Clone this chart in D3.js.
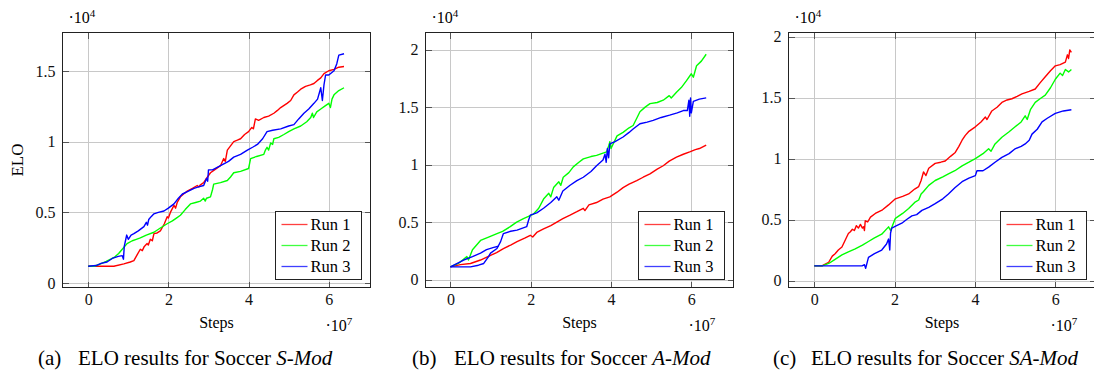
<!DOCTYPE html>
<html>
<head>
<meta charset="utf-8">
<script src="https://cdn.jsdelivr.net/npm/d3@7"></script>
<style>
  html, body { margin: 0; padding: 0; background: #fff; }
  svg { display: block; }
</style>
</head>
<body>
<div id="chart"></div>
<script>
// steps in units of 1e7, ELO in units of 1e4 (as in the axis multipliers)
const xTicks = [0, 2, 4, 6];
const yTicksA = [0, 0.5, 1, 1.5];
const yTicksBC = [0, 0.5, 1, 1.5, 2];
const runNames = ['Run 1', 'Run 2', 'Run 3'];
const runColors = ['#ff0000', '#00ff00', '#0000ff'];
const captions = [
  ['(a)', 'ELO results for Soccer ', 'S-Mod'],
  ['(b)', 'ELO results for Soccer ', 'A-Mod'],
  ['(c)', 'ELO results for Soccer ', 'SA-Mod']
];

// (a) S-Mod
const aRun1 = [[0,0.12],[0.3,0.12],[0.64,0.12],[0.89,0.137],[1.05,0.15],[1.14,0.16],[1.22,0.2],[1.3,0.24],[1.35,0.23],[1.4,0.26],[1.47,0.28],[1.5,0.27],[1.55,0.31],[1.6,0.3],[1.64,0.35],[1.72,0.355],[1.8,0.37],[1.9,0.42],[1.97,0.47],[2.0,0.46],[2.05,0.5],[2.14,0.55],[2.18,0.53],[2.22,0.57],[2.3,0.61],[2.38,0.63],[2.47,0.65],[2.6,0.67],[2.72,0.69],[2.76,0.68],[2.8,0.695],[2.88,0.71],[2.95,0.74],[3.05,0.78],[3.15,0.8],[3.3,0.83],[3.38,0.88],[3.42,0.86],[3.47,0.94],[3.55,0.97],[3.63,1.0],[3.72,1.01],[3.8,1.02],[3.9,1.05],[4.0,1.07],[4.08,1.1],[4.12,1.09],[4.17,1.16],[4.25,1.15],[4.38,1.17],[4.5,1.18],[4.63,1.2],[4.72,1.22],[4.8,1.24],[4.96,1.27],[5.05,1.29],[5.13,1.33],[5.22,1.35],[5.3,1.37],[5.42,1.39],[5.54,1.4],[5.63,1.41],[5.71,1.43],[5.8,1.45],[5.88,1.48],[6.0,1.5],[6.13,1.51],[6.25,1.525],[6.38,1.53]];
const aRun2 = [[0,0.12],[0.15,0.12],[0.31,0.137],[0.45,0.155],[0.56,0.17],[0.66,0.185],[0.76,0.21],[0.85,0.24],[0.97,0.28],[1.1,0.3],[1.2,0.31],[1.3,0.32],[1.45,0.34],[1.64,0.36],[1.8,0.39],[1.97,0.42],[2.1,0.44],[2.2,0.46],[2.3,0.48],[2.42,0.52],[2.55,0.56],[2.68,0.57],[2.8,0.58],[2.88,0.6],[2.92,0.58],[2.95,0.6],[3.05,0.61],[3.1,0.66],[3.13,0.7],[3.3,0.71],[3.47,0.725],[3.55,0.75],[3.63,0.78],[3.8,0.79],[4.0,0.81],[4.05,0.88],[4.2,0.895],[4.38,0.91],[4.42,0.94],[4.46,0.96],[4.5,0.94],[4.55,0.99],[4.6,0.98],[4.63,1.02],[4.75,1.03],[4.88,1.05],[5.0,1.07],[5.13,1.09],[5.3,1.11],[5.45,1.14],[5.55,1.17],[5.59,1.2],[5.62,1.17],[5.7,1.21],[5.8,1.23],[5.9,1.25],[6.0,1.27],[6.04,1.24],[6.08,1.3],[6.13,1.33],[6.25,1.36],[6.38,1.38]];
const aRun3 = [[0,0.12],[0.2,0.125],[0.32,0.14],[0.47,0.15],[0.6,0.175],[0.75,0.19],[0.85,0.195],[0.88,0.17],[0.9,0.26],[0.93,0.3],[0.96,0.34],[1.0,0.31],[1.07,0.34],[1.14,0.35],[1.25,0.37],[1.39,0.4],[1.45,0.43],[1.48,0.41],[1.51,0.45],[1.57,0.47],[1.64,0.49],[1.75,0.5],[1.89,0.51],[2.0,0.53],[2.14,0.56],[2.25,0.6],[2.35,0.63],[2.5,0.65],[2.64,0.67],[2.75,0.68],[2.88,0.69],[2.95,0.74],[2.98,0.72],[3.0,0.8],[3.1,0.8],[3.3,0.83],[3.5,0.86],[3.63,0.89],[3.8,0.91],[3.97,0.94],[4.1,0.96],[4.22,0.98],[4.35,1.02],[4.46,1.07],[4.6,1.08],[4.8,1.09],[5.0,1.11],[5.13,1.12],[5.25,1.16],[5.38,1.2],[5.5,1.23],[5.63,1.27],[5.72,1.3],[5.8,1.38],[5.84,1.29],[5.88,1.4],[5.92,1.47],[6.0,1.47],[6.13,1.5],[6.2,1.55],[6.25,1.61],[6.38,1.62]];

// (b) A-Mod
const bRun1 = [[0,0.11],[0.25,0.13],[0.5,0.14],[0.75,0.17],[1.0,0.21],[1.15,0.235],[1.32,0.27],[1.5,0.3],[1.66,0.33],[1.85,0.36],[1.99,0.385],[2.05,0.37],[2.15,0.41],[2.32,0.44],[2.5,0.47],[2.65,0.5],[2.8,0.53],[2.98,0.56],[3.15,0.59],[3.31,0.62],[3.35,0.6],[3.45,0.65],[3.64,0.67],[3.8,0.7],[3.97,0.72],[4.15,0.76],[4.3,0.8],[4.45,0.83],[4.64,0.86],[4.8,0.89],[4.97,0.92],[5.15,0.96],[5.3,0.99],[5.45,1.03],[5.63,1.065],[5.8,1.09],[5.96,1.11],[6.1,1.13],[6.2,1.14],[6.37,1.17]];
const bRun2 = [[0,0.11],[0.2,0.14],[0.41,0.2],[0.45,0.17],[0.55,0.26],[0.75,0.34],[0.95,0.37],[1.16,0.4],[1.3,0.42],[1.49,0.46],[1.65,0.5],[1.82,0.53],[2.07,0.57],[2.2,0.62],[2.32,0.7],[2.45,0.75],[2.5,0.72],[2.57,0.8],[2.7,0.85],[2.75,0.82],[2.81,0.89],[2.95,0.93],[3.06,0.98],[3.2,1.02],[3.31,1.05],[3.5,1.07],[3.64,1.08],[3.89,1.11],[3.95,1.17],[3.97,1.2],[4.0,1.14],[4.15,1.25],[4.3,1.28],[4.45,1.32],[4.55,1.34],[4.65,1.41],[4.72,1.46],[4.85,1.5],[4.97,1.53],[5.15,1.54],[5.3,1.56],[5.45,1.6],[5.5,1.58],[5.63,1.63],[5.75,1.67],[5.88,1.73],[6.0,1.79],[6.05,1.76],[6.13,1.86],[6.25,1.9],[6.37,1.96]];
const bRun3Early = [[0,0.11],[0.33,0.17],[0.55,0.2],[0.75,0.23],[0.9,0.26],[1.08,0.28],[1.2,0.29]];
const bRun3 = [[0,0.11],[0.3,0.11],[0.5,0.11],[0.7,0.125],[0.83,0.14],[0.95,0.2],[1.0,0.23],[1.16,0.27],[1.25,0.33],[1.32,0.4],[1.5,0.42],[1.66,0.43],[1.9,0.46],[1.95,0.52],[1.99,0.56],[2.15,0.58],[2.32,0.62],[2.5,0.67],[2.65,0.72],[2.7,0.69],[2.8,0.77],[2.98,0.82],[3.15,0.86],[3.31,0.89],[3.5,0.94],[3.64,0.99],[3.8,1.04],[3.85,1.09],[3.88,1.02],[3.91,1.14],[3.94,1.06],[3.97,1.18],[4.1,1.2],[4.3,1.24],[4.45,1.28],[4.55,1.31],[4.72,1.355],[4.9,1.37],[5.05,1.385],[5.25,1.41],[5.46,1.43],[5.65,1.45],[5.8,1.47],[5.9,1.47],[5.94,1.56],[5.96,1.42],[5.98,1.58],[6.0,1.45],[6.05,1.55],[6.2,1.57],[6.37,1.58]];

// (c) SA-Mod
const cRun1 = [[0,0.12],[0.19,0.12],[0.36,0.15],[0.45,0.2],[0.52,0.22],[0.6,0.25],[0.69,0.275],[0.77,0.33],[0.85,0.385],[0.9,0.4],[0.95,0.42],[1.0,0.41],[1.05,0.45],[1.1,0.43],[1.15,0.46],[1.2,0.43],[1.23,0.44],[1.25,0.41],[1.27,0.49],[1.33,0.48],[1.4,0.52],[1.52,0.55],[1.7,0.58],[1.85,0.62],[2.02,0.67],[2.2,0.69],[2.35,0.71],[2.5,0.75],[2.6,0.77],[2.66,0.82],[2.72,0.89],[2.78,0.86],[2.85,0.92],[3.01,0.96],[3.15,0.97],[3.26,0.98],[3.4,1.02],[3.51,1.05],[3.6,1.1],[3.68,1.15],[3.76,1.19],[3.84,1.22],[4.01,1.26],[4.15,1.3],[4.26,1.34],[4.3,1.32],[4.42,1.39],[4.55,1.42],[4.67,1.46],[4.8,1.48],[4.92,1.49],[5.05,1.51],[5.17,1.53],[5.35,1.55],[5.5,1.57],[5.62,1.62],[5.75,1.67],[5.88,1.72],[6.0,1.76],[6.12,1.77],[6.25,1.79],[6.3,1.85],[6.33,1.82],[6.36,1.89],[6.4,1.87]];
const cRun2 = [[0,0.12],[0.2,0.12],[0.36,0.14],[0.5,0.17],[0.69,0.21],[0.85,0.235],[1.02,0.26],[1.2,0.29],[1.35,0.32],[1.5,0.35],[1.68,0.38],[1.85,0.44],[1.9,0.41],[2.02,0.51],[2.2,0.55],[2.35,0.59],[2.5,0.64],[2.6,0.66],[2.66,0.71],[2.72,0.73],[2.85,0.78],[3.01,0.82],[3.2,0.85],[3.34,0.875],[3.5,0.9],[3.68,0.94],[3.85,0.97],[4.01,1.0],[4.2,1.04],[4.34,1.08],[4.4,1.06],[4.5,1.12],[4.67,1.175],[4.85,1.22],[5.0,1.26],[5.15,1.3],[5.25,1.35],[5.3,1.32],[5.38,1.4],[5.5,1.46],[5.62,1.49],[5.75,1.52],[5.88,1.58],[6.0,1.65],[6.12,1.7],[6.18,1.68],[6.25,1.73],[6.33,1.71],[6.4,1.73]];
const cRun3 = [[0,0.12],[0.6,0.12],[1.0,0.12],[1.19,0.12],[1.25,0.13],[1.28,0.1],[1.35,0.19],[1.5,0.22],[1.68,0.25],[1.8,0.3],[1.85,0.34],[1.88,0.25],[1.9,0.39],[1.93,0.43],[2.05,0.45],[2.18,0.47],[2.3,0.5],[2.43,0.53],[2.55,0.54],[2.68,0.575],[2.85,0.6],[3.01,0.63],[3.2,0.67],[3.34,0.71],[3.5,0.76],[3.68,0.81],[3.85,0.84],[4.01,0.86],[4.05,0.9],[4.2,0.9],[4.34,0.93],[4.5,0.97],[4.67,1.01],[4.85,1.04],[5.0,1.08],[5.15,1.1],[5.25,1.12],[5.35,1.15],[5.42,1.2],[5.55,1.24],[5.67,1.3],[5.8,1.33],[6.0,1.37],[6.2,1.39],[6.4,1.4]];

const W = 1094, H = 378;
const SERIF = 'Liberation Serif';

// panel boxes (pixels) and axis ranges
const panels = [
  { left: 62, right: 370, top: 32, bottom: 287, xDom: [-0.64, 7.04], yDom: [-0.03, 1.77], yTicks: yTicksA,
    series: [[aRun1], [aRun2], [aRun3]], ylabel: 'ELO', caption: captions[0], capX: [38, 78] },
  { left: 425, right: 733, top: 32, bottom: 287, xDom: [-0.62, 7.05], yDom: [-0.069, 2.149], yTicks: yTicksBC,
    series: [[bRun1], [bRun2], [bRun3Early, bRun3]], ylabel: null, caption: captions[1], capX: [412, 454] },
  { left: 788, right: 1095, top: 32, bottom: 287, xDom: [-0.64, 7.0], yDom: [-0.057, 2.033], yTicks: yTicksBC,
    series: [[cRun1], [cRun2], [cRun3]], ylabel: null, caption: captions[2], capX: [773, 811] }
];

const svg = d3.select('#chart').append('svg')
  .attr('width', W)
  .attr('height', H)
  .attr('font-family', SERIF);

panels.forEach((p, pi) => {
  const w = p.right - p.left;
  const h = p.bottom - p.top;
  const x = d3.scaleLinear().domain(p.xDom).range([0, w]);
  const y = d3.scaleLinear().domain(p.yDom).range([h, 0]);

  const g = svg.append('g').attr('transform', `translate(${p.left + 0.5},${p.top + 0.5})`);

  g.append('clipPath').attr('id', 'clip' + pi)
    .append('rect').attr('width', w).attr('height', h);

  // grid
  const gx = g.append('g').attr('transform', `translate(0,${h})`)
    .call(d3.axisBottom(x).tickValues(xTicks).tickSize(-h).tickFormat(''));
  const gy = g.append('g')
    .call(d3.axisLeft(y).tickValues(p.yTicks).tickSize(-w).tickFormat(''));
  [gx, gy].forEach(a => {
    a.select('.domain').remove();
    a.selectAll('line').attr('stroke', '#c8c8c8').attr('shape-rendering', 'crispEdges');
  });

  // lines
  const line = d3.line().x(d => x(d[0])).y(d => y(d[1]));
  const plot = g.append('g').attr('clip-path', `url(#clip${pi})`);
  p.series.forEach((segs, si) => {
    segs.forEach(seg => {
      plot.append('path')
        .datum(seg)
        .attr('d', line)
        .attr('fill', 'none')
        .attr('stroke', runColors[si])
        .attr('stroke-width', 1.4)
        .attr('stroke-linejoin', 'round');
    });
  });

  // axes with inward ticks
  const xb = g.append('g').attr('transform', `translate(0,${h})`)
    .call(d3.axisBottom(x).tickValues(xTicks).tickSizeInner(-6).tickSizeOuter(0).tickFormat(d3.format('d')));
  const xt = g.append('g')
    .call(d3.axisTop(x).tickValues(xTicks).tickSizeInner(-6).tickSizeOuter(0).tickFormat(''));
  const yl = g.append('g')
    .call(d3.axisLeft(y).tickValues(p.yTicks).tickSizeInner(-6).tickSizeOuter(0).tickPadding(7).tickFormat(d => String(d)));
  const yr = g.append('g').attr('transform', `translate(${w},0)`)
    .call(d3.axisRight(y).tickValues(p.yTicks).tickSizeInner(-6).tickSizeOuter(0).tickFormat(''));
  [xb, xt, yl, yr].forEach(a => {
    a.select('.domain').remove();
    a.selectAll('line').attr('stroke', '#555').attr('shape-rendering', 'crispEdges');
    a.attr('font-family', SERIF).attr('font-size', 16);
    a.selectAll('text').attr('fill', '#111');
  });
  xb.selectAll('text').attr('y', 17).attr('dy', 0);
  yl.selectAll('text').attr('dy', '0.33em');

  // frame
  g.append('rect')
    .attr('width', w).attr('height', h)
    .attr('fill', 'none').attr('stroke', '#222').attr('stroke-width', 1)
    .attr('shape-rendering', 'crispEdges');

  // multipliers
  const m4 = g.append('text').attr('x', 6).attr('y', 23 - p.top - 0.5).attr('font-size', 16);
  m4.append('tspan').text('\u00b710');
  m4.append('tspan').attr('dy', -6).attr('font-size', 11).text('4');
  const m7 = g.append('text').attr('x', w - 45).attr('y', 331 - p.top - 0.5).attr('font-size', 16);
  m7.append('tspan').text('\u00b710');
  m7.append('tspan').attr('dy', -6).attr('font-size', 11).text('7');

  // axis titles
  g.append('text')
    .attr('x', w / 2).attr('y', 327 - p.top)
    .attr('text-anchor', 'middle')
    .attr('font-size', 16)
    .text('Steps');
  if (p.ylabel) {
    g.append('text')
      .attr('transform', `translate(${17 - p.left + 5},${h / 2}) rotate(-90)`)
      .attr('text-anchor', 'middle')
      .attr('font-size', 17)
      .text(p.ylabel);
  }

  // legend
  const lg = g.append('g').attr('transform', `translate(${w - 95},${h - 76})`);
  lg.append('rect')
    .attr('width', 86).attr('height', 68)
    .attr('fill', '#fff').attr('stroke', '#222').attr('shape-rendering', 'crispEdges');
  runNames.forEach((name, i) => {
    const ly = 13 + i * 21;
    lg.append('line')
      .attr('x1', 6).attr('x2', 32).attr('y1', ly).attr('y2', ly)
      .attr('stroke', runColors[i]).attr('stroke-width', 1.3).attr('opacity', 0.75);
    lg.append('text')
      .attr('x', 35).attr('y', ly + 5.5)
      .attr('font-size', 16.5)
      .text(name);
  });

  // caption
  const cap = svg.append('text').attr('y', 365).attr('font-size', 21);
  cap.append('tspan').attr('x', p.capX[0]).text(p.caption[0]);
  cap.append('tspan').attr('x', p.capX[1]).text(p.caption[1]);
  cap.append('tspan').attr('font-style', 'italic').text(p.caption[2]);
});
</script>
</body>
</html>
